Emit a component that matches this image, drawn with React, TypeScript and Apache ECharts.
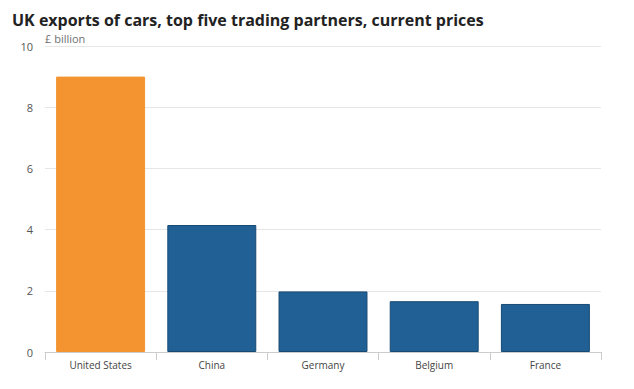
import React, { useEffect, useRef } from "react";
import * as echarts from "echarts";

const categories = ["United States", "China", "Germany", "Belgium", "France"];
const values = [9.0, 4.15, 1.98, 1.66, 1.57];
const barColors = ["#F39431", "#206095", "#206095", "#206095", "#206095"];
const borderColors = ["#F39431", "#174a73", "#174a73", "#174a73", "#174a73"];
const titleText = "UK exports of cars, top five trading partners, current prices";
const unitText = "£ billion";

export default function App() {
  const ref = useRef<HTMLDivElement>(null);
  useEffect(() => {
    const chart = echarts.init(ref.current!, null, { renderer: "svg" });
    chart.setOption({
      animation: false,
      backgroundColor: "#ffffff",
      textStyle: { fontFamily: "Open Sans" },
      title: {
        text: titleText,
        left: 4,
        top: 3,
        padding: 0,
        textStyle: { fontFamily: "Open Sans", fontSize: 16, lineHeight: 18, fontWeight: "bold", color: "#222222" },
      },
      graphic: [
        {
          type: "text",
          left: 37,
          top: 25,
          style: { text: unitText, fontFamily: "Open Sans", fontSize: 11, fill: "#707070" },
        },
      ],
      grid: { left: 37, right: 25, top: 38, bottom: 29, containLabel: false },
      xAxis: {
        type: "category",
        data: categories,
        axisLine: { lineStyle: { color: "#cccccc" } },
        axisTick: { show: true, length: 8, lineStyle: { color: "#cccccc" }, alignWithLabel: false },
        axisLabel: { color: "#444444", fontSize: 10, margin: 8 },
      },
      yAxis: {
        type: "value",
        min: 0,
        max: 10,
        interval: 2,
        axisLine: { show: false },
        axisTick: { show: false },
        splitLine: { lineStyle: { color: "#e6e6e6" } },
        axisLabel: { color: "#555555", fontSize: 11, margin: 12 },
      },
      series: [
        {
          type: "bar",
          barCategoryGap: "20%",
          data: values.map((v, i) => ({
            value: v,
            itemStyle: { color: barColors[i], borderColor: borderColors[i], borderWidth: 1 },
          })),
        },
      ],
    });
    return () => chart.dispose();
  }, []);
  return <div ref={ref} style={{ width: 618, height: 373 }} />;
}
